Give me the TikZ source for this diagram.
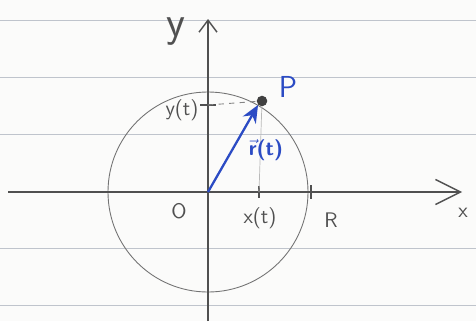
\documentclass[tikz,border=0pt]{standalone}
\usepackage{amsmath}
\usepackage{tikz}
\usetikzlibrary{arrows.meta,positioning,calc}
\definecolor{PenBlue}{HTML}{2B4BC4}
\definecolor{PencilGray}{HTML}{505050}
\definecolor{RuleLine}{HTML}{BFC4CC}
\definecolor{PaperWhite}{HTML}{FBFBFA}

\begin{document}
\begin{tikzpicture}[x=0.02cm,y=-0.02cm,font=\sffamily\large,
    ruleline/.style={RuleLine,line width=0.5pt},
    axisline/.style={PencilGray,line width=0.8pt},
    tickmark/.style={PencilGray,line width=1.1pt},
    pencil/.style={PencilGray,text=PencilGray}]
  \useasboundingbox (0,0) rectangle (476,321);
  \fill[PaperWhite] (0,0) rectangle (476,321);
  % lined paper
  \foreach \y in {20,77,134,248,305}
    \draw[ruleline] (0,\y) -- (476,\y);
  % points
  \coordinate (O) at (208,192);
  \coordinate (xl) at (8,192);
  \coordinate (xr) at (462,192);
  \coordinate (yb) at (208,321);
  \coordinate (yt) at (208,19);
  \coordinate (xt) at (259,192);
  \coordinate (Rt) at (311,192);
  \coordinate (ytk) at (208,105);
  \node[circle,fill=PencilGray!80!black,inner sep=0pt,minimum size=6pt] (P) at (262,101) {};
  % circle and axes
  \draw[PencilGray!80,line width=0.5pt] (O) circle[radius=100];
  \draw[axisline,-{Straight Barb[length=5mm,width=5mm,line width=0.8pt]}] (xl) -- (xr);
  \draw[axisline,-{Straight Barb[length=2.4mm,width=3.6mm,line width=0.8pt]}] (yb) -- (yt);
  % ticks
  \draw[tickmark] ($(xt)+(0,-6)$) -- ($(xt)+(0,6)$);
  \draw[tickmark] ($(Rt)+(0,-7)$) -- ($(Rt)+(0,7)$);
  \draw[tickmark] ($(ytk)+(-8,0)$) -- ($(ytk)+(8,0)$);
  % projections
  \draw[PencilGray!70,dashed,line width=0.5pt] (ytk) -- (P);
  \draw[PencilGray!40,line width=0.4pt] (P) -- (xt);
  % position vector
  \draw[PenBlue,line width=1.3pt,-{Stealth[length=3.5mm,width=3mm]}] (O) -- (P.south west);
  % labels
  \node[pencil,font=\sffamily\Huge] (ylab) at (176,32) {y};
  \node[pencil,font=\sffamily\large] (xlab) at (463,213) {x};
  \node[PenBlue,font=\sffamily\LARGE] (Plab) at (288,87) {P};
  \node[pencil] (ytlab) at (182,110) {y(t)};
  \node[PenBlue,font=\sffamily\bfseries\large] (rlab) at (266,150) {$\vec{\textsf{\bfseries r}}$(t)};
  \node[pencil] (Olab) at (179,211) {O};
  \node[pencil] (xtlab) at (260,218) {x(t)};
  \node[pencil] (Rlab) at (331,220) {R};
\end{tikzpicture}
\end{document}
